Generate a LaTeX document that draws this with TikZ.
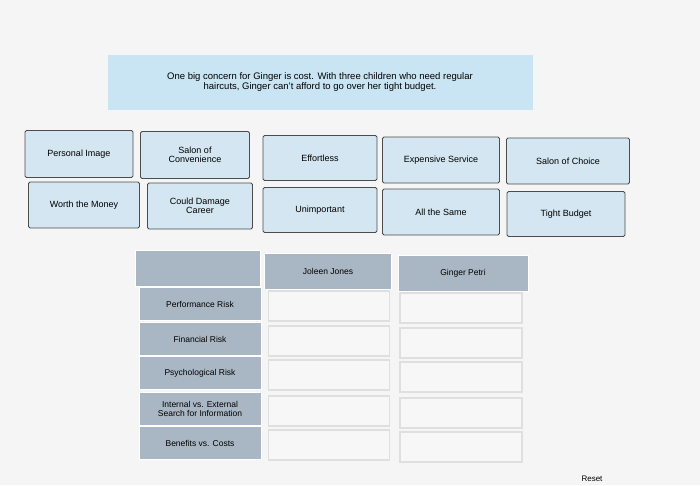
\documentclass[tikz,border=0pt]{standalone}
\usepackage{fontspec}
\setmainfont{Liberation Sans}
\definecolor{btnc}{HTML}{D3E6F1}
\definecolor{hdrc}{HTML}{A9B7C4}
\definecolor{qc}{HTML}{C9E4F2}
\begin{document}
\begin{tikzpicture}[x=1pt,y=-1pt,
  btn/.style={draw=black!70,fill=btnc,line width=0.8pt,rounded corners=1.5pt,align=center,font=\fontsize{9}{9.5}\selectfont,inner sep=0},
  hdr/.style={fill=hdrc,draw=white,line width=1pt,align=center,font=\fontsize{8.5}{9}\selectfont,inner sep=0},
  cell/.style={draw=gray!25,fill=gray!6,line width=1.5pt,inner sep=0}]
\fill[gray!8] (0,0) rectangle (700,485);
\useasboundingbox (0,0) rectangle (700,485);
\node[fill=qc,minimum width=425,minimum height=55,align=center,font=\fontsize{9.5}{10}\selectfont] (q) at (320,82)
 {One big concern for Ginger is cost. With three children who need regular\\haircuts, Ginger can't afford to go over her tight budget.};
\node[btn,minimum width=108,minimum height=47] (b1) at (79,154) {Personal Image};
\node[btn,minimum width=109,minimum height=47] (b2) at (195,155) {Salon of\\Convenience};
\node[btn,minimum width=114,minimum height=45] (b3) at (320,158) {Effortless};
\node[btn,minimum width=117,minimum height=46] (b4) at (441,160) {Expensive Service};
\node[btn,minimum width=123,minimum height=46] (b5) at (568,161) {Salon of Choice};
\node[btn,minimum width=111,minimum height=46] (b6) at (84,205) {Worth the Money};
\node[btn,minimum width=105,minimum height=46] (b7) at (200,206) {Could Damage\\Career};
\node[btn,minimum width=114,minimum height=45] (b8) at (320,210) {Unimportant};
\node[btn,minimum width=117,minimum height=46] (b9) at (441,212) {All the Same};
\node[btn,minimum width=118,minimum height=45] (b10) at (566,214) {Tight Budget};
\node[hdr,minimum width=125,minimum height=36] (h0) at (198,268) {};
\node[hdr,minimum width=127,minimum height=36,anchor=north] (h1) at (328,253) {Joleen Jones};
\node[hdr,minimum width=130,minimum height=36,anchor=north] (h2) at (463,255) {Ginger Petri};
\foreach \t/\y [count=\i] in {Performance Risk/304,Financial Risk/339,Psychological Risk/373,{Internal vs. External\\Search for Information}/409,Benefits vs. Costs/443}{
  \node[hdr,minimum width=122,minimum height=33] (r\i) at (200,\y) {\t};
  \node[cell,minimum width=121,minimum height=30] (c\i a) at (329,\y+2) {};
  \node[cell,minimum width=122,minimum height=30] (c\i b) at (461,\y+4) {};
}
\node[font=\fontsize{8}{9}\selectfont] (reset) at (592,479) {Reset};
\end{tikzpicture}
\end{document}
